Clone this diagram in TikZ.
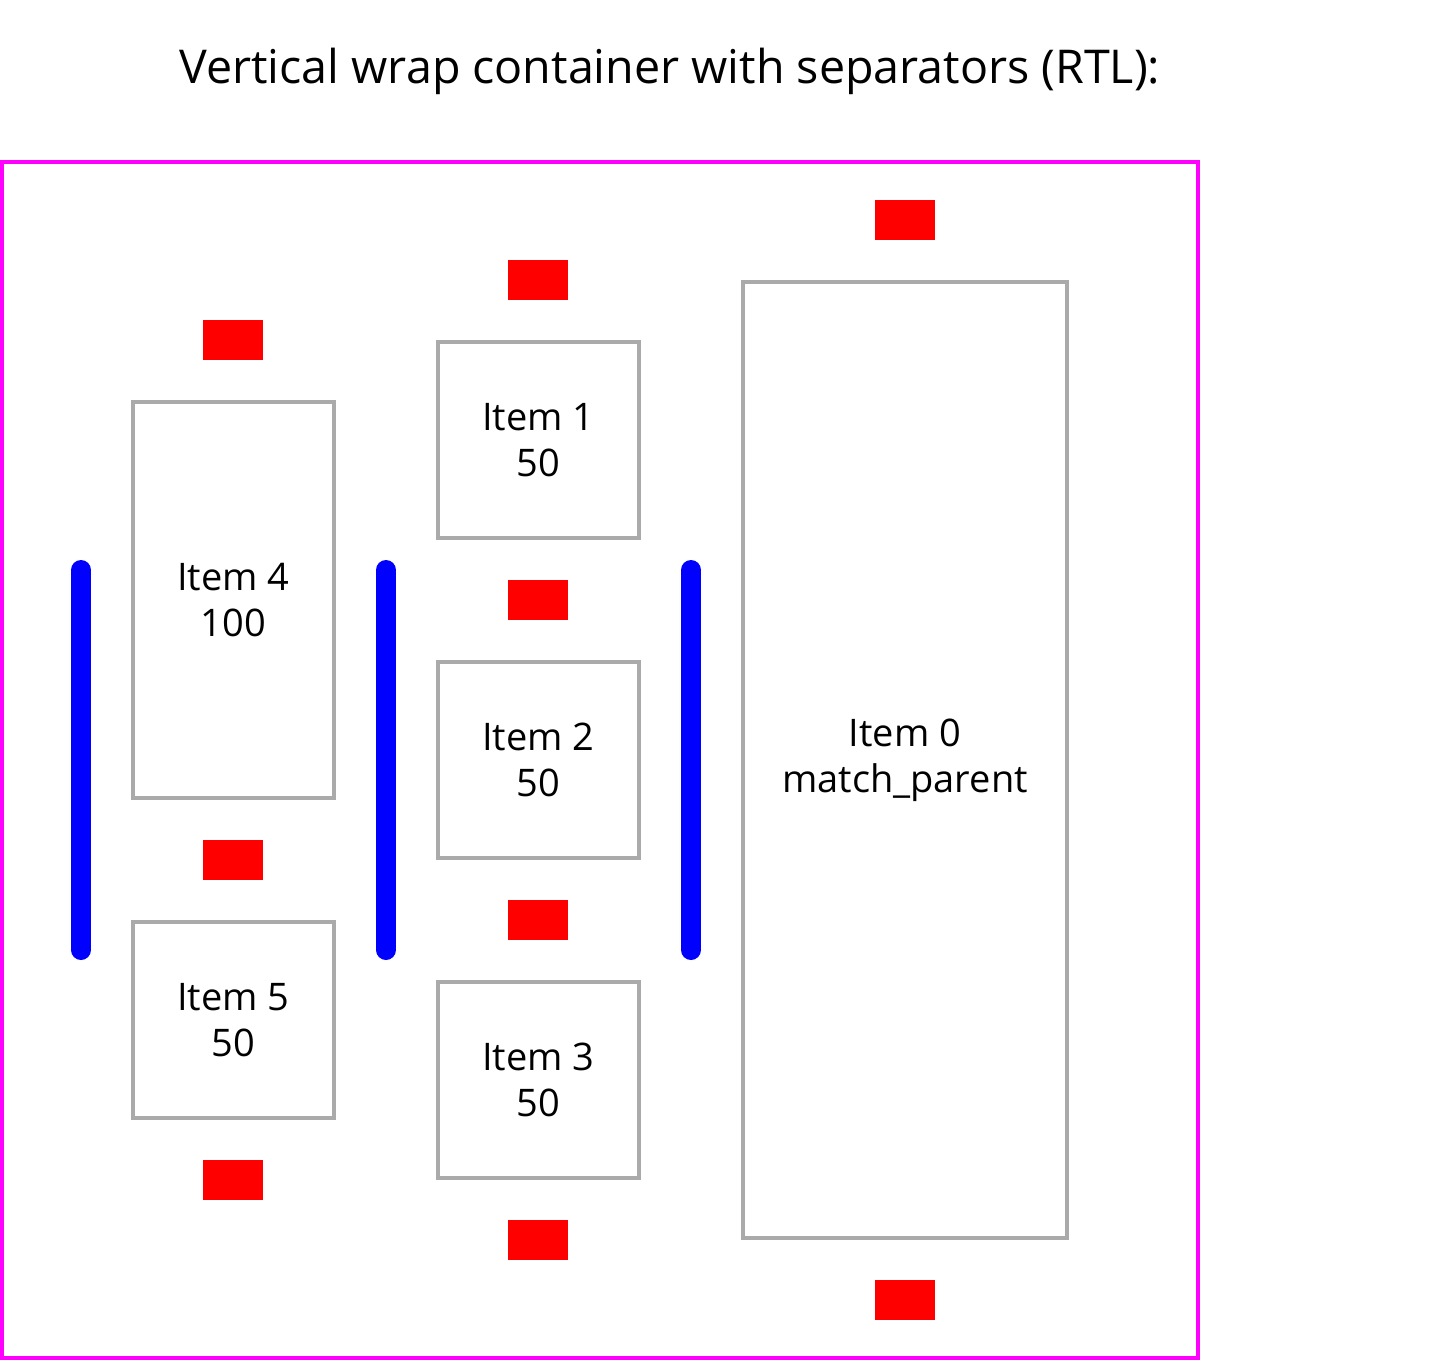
\documentclass[tikz,border=0pt]{standalone}
\usepackage{fontspec}
\setmainfont{Open Sans}
\usetikzlibrary{positioning}
\definecolor{frameMagenta}{HTML}{FF00FF}
\definecolor{itemGray}{HTML}{AAAAAA}
\definecolor{spacerRed}{HTML}{FF0000}
\definecolor{sepBlue}{HTML}{0000FF}

\begin{document}
\begin{tikzpicture}[x=1pt, y=-1pt, every node/.style={font=\fontsize{38}{46}\selectfont},
    item/.style={draw=itemGray, line width=4pt, align=center, inner sep=0pt, minimum width=201pt},
    spacer/.style={fill=spacerRed, inner sep=0pt, minimum width=60pt, minimum height=40pt},
    separator/.style={draw=sepBlue, line width=20pt, line cap=round}]
    \useasboundingbox (0,0) rectangle (1440,1360);
    \node[font=\fontsize{46.6}{54}\selectfont] (title) at (670,71) {Vertical wrap container with separators (RTL):};
    \node[draw=frameMagenta, line width=4pt, inner sep=0pt, minimum width=1196pt, minimum height=1196pt] (wrap) at (600,760) {};
    % column 0
    \node[item, minimum width=324pt, minimum height=956pt] (item0) at (905,760) {Item 0\\match\_parent};
    \node[spacer] (sp0a) at (905,220) {};
    \node[spacer] (sp0b) at (905,1300) {};
    % column 1
    \node[item, minimum height=196pt] (item1) at (538.5,440) {Item 1\\50};
    \node[item, minimum height=196pt] (item2) at (538.5,760) {Item 2\\50};
    \node[item, minimum height=196pt] (item3) at (538.5,1080) {Item 3\\50};
    \node[spacer] (sp1a) at (538,280) {};
    \node[spacer] (sp1b) at (538,600) {};
    \node[spacer] (sp1c) at (538,920) {};
    \node[spacer] (sp1d) at (538,1240) {};
    % column 2
    \node[item, minimum height=396pt] (item4) at (233.5,600) {Item 4\\100};
    \node[item, minimum height=196pt] (item5) at (233.5,1020) {Item 5\\50};
    \node[spacer] (sp2a) at (233,340) {};
    \node[spacer] (sp2b) at (233,860) {};
    \node[spacer] (sp2c) at (233,1180) {};
    % separators
    \coordinate (sepAtop) at (691,570);
    \coordinate (sepAbot) at (691,950);
    \coordinate (sepBtop) at (386,570);
    \coordinate (sepBbot) at (386,950);
    \coordinate (sepCtop) at (81,570);
    \coordinate (sepCbot) at (81,950);
    \draw[separator] (sepAtop) -- (sepAbot);
    \draw[separator] (sepBtop) -- (sepBbot);
    \draw[separator] (sepCtop) -- (sepCbot);
\end{tikzpicture}
\end{document}
